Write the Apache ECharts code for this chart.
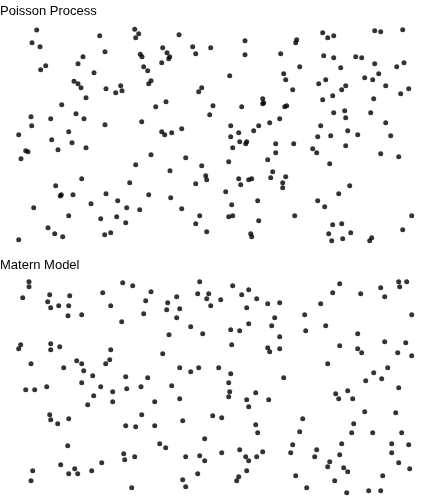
<!DOCTYPE html>
<html>
<head>
<meta charset="utf-8">
<script src="https://cdn.jsdelivr.net/npm/echarts@6/dist/echarts.min.js"></script>
<style>html,body{margin:0;padding:0;background:#fff}#c{width:432px;height:504px}</style>
</head>
<body>
<div id="c"></div>
<script>
const titles = ['Poisson Process', 'Matern Model'];

const poissonX = [36.7,134.7,138.7,135.7,99.7,32,40,105,140.3,142,83,78,45.7,40.7,143.7,147.7,94,74,78,81,120.7,122,115.7,106,86,61.7,76,84,31,50.7,31.7,105,18.7,68.7,51.7,72,86,25.7,28,58,21,135.7,81.7,129.7,55.7,61.3,60.3,73,106,117.7,91,33.7,126.7,139.7,68.7,116.7,100.7,125.7,48,54.7,62.7,104.7,110.7,18.7,
179,245,162.7,192.7,210.7,167,195.7,245,280.7,169.7,168.7,161.7,229.7,151,148.7,201.7,198.7,166,155.7,213,241.7,262.7,263.7,262.7,209.7,141.7,230.7,258.7,269.7,279.7,181.7,161.7,164.7,171.7,238.7,253.7,230.7,239.7,246.7,245.7,232.7,275.7,151,185.7,275.7,267.7,228.7,201.7,170,272.7,205.7,206.7,270.7,238.7,248.7,251.7,195.7,240.7,225.7,148.7,170.7,257.7,231.7,181.7,199.7,228.7,232.7,195.7,258.7,206.7,250.7,251.7,
322.7,327.7,333.7,374.7,380.7,402.7,296.7,295.7,323.7,333.7,355.7,361.7,374.7,404,396.7,299.7,340.7,283.7,285.7,378.7,364.7,372.7,318.7,325.7,345.7,341.7,385.7,408.7,400.7,292.7,332.7,322.7,373.7,284.7,286.7,333.7,344.7,345.7,370.7,385.7,320.7,317.7,330.7,347.7,357.7,390.7,293.7,345.7,312.7,316.7,380.7,398.7,329.7,285.7,282.7,282.7,349.7,338.7,317.7,324.7,294.7,411.7,332.7,341.7,328.7,350.7,402.7,331.7,342.7,371.7,369.7];
const poissonY = [30,29.3,33.7,37.7,35.7,42.7,46.7,51.7,54.3,56.7,56.7,63.7,65.7,69.7,66.7,70.7,72.7,81.3,83.7,87.7,85.7,90.7,92.7,88.7,97.7,104.7,113.7,118.7,116.7,118.7,125.7,124.7,134.7,131.7,139.7,142.7,147.7,150.7,151.7,149.7,158.7,164.7,178.7,182.7,185.7,194.7,196,194.7,193.7,200.7,203.7,207.7,207.7,209.7,215.7,216.7,218.7,222.7,227.7,233.7,236.7,234.7,232.7,239.7,
34.7,40.7,47.7,46.7,47.7,52.7,53.7,54.7,53.7,56.7,58.7,62.7,75.7,80.7,83.7,87.7,91.7,101.7,106.7,105.7,106.7,98.7,102.7,103.7,114.7,121.7,125.7,125.7,122.7,118.7,128.7,131.7,134.7,132.7,132.7,130.7,136.7,141.7,141.7,143.7,147.7,143.7,154.7,157.7,152.7,159.7,161.7,165.7,170.7,171.7,175.7,179.7,177.7,178.7,179.7,178.7,183.7,184.7,191.7,194.7,197.7,200.7,204.7,208.7,215.7,216.7,215.7,223.7,220.7,231.7,233.7,236.7,
32.7,37.7,35.7,30.7,31.7,29.7,39.7,42.7,55.7,57.7,56.7,57.7,63.7,62.7,66.7,66.7,67.7,73.7,79.7,73.7,77.7,79.7,83.7,79.7,85.7,89.7,85.7,88.7,93.7,89.7,95.7,99.7,98.7,106.7,105.7,112.7,110.7,117.7,112.7,122.7,125.7,136.7,135.7,130.7,134.7,135.7,143.7,145.7,148.7,152.7,153.7,156.7,163.7,176.7,182.7,187.7,185.7,193.7,200.7,206.7,215.7,215.7,224.7,223.7,233.7,232.7,229.7,240.7,238.7,237.7,240.7];

const maternX = [29,29,22.7,49.7,69.7,47.7,50.7,58.7,68.7,68,81.7,102.7,122.7,132.7,110.7,121.7,20.7,18.7,50.7,50.7,59.7,110.7,31,63.7,76.7,81.7,83.7,109.7,105.7,92.7,125.7,81.7,25.7,34.7,46.7,100.7,112.7,126.7,93.7,87.7,112.7,49.7,50.7,57.7,68.7,125.7,135.7,67.7,123.7,124.7,134.7,101.7,60.7,32.7,74.7,68.7,77.7,91.7,31,131.7,
199.7,232.7,248.7,241.7,151,145.7,143.7,176.7,167.7,166.7,179.7,176.7,197.7,208.7,206.7,210.7,220.7,256.7,246.7,267.7,279.7,274.7,271.7,248.7,230.7,239.7,190.7,169,202.7,279.7,231.7,267.7,269.7,279.7,162.7,179.7,190.7,198.7,218.7,230.7,147.7,141,171.7,228.7,229.7,228.7,255.7,246.7,268.7,248.7,179.7,154.7,141.7,212.7,221.7,182.7,154.7,255.7,257.7,204.7,159.7,165.7,239.7,221.7,185.7,199.7,204.7,245.7,248.7,256.7,262.7,197.7,246.7,238.7,236.7,182.7,185.7,
339.7,398.7,406.7,399.7,380.7,332.7,360.7,384.7,320.7,304.7,411.7,325.7,305.7,357.7,339.7,384.7,405.7,357.7,361.7,397.7,411.7,327.7,387.7,373.7,381.7,365.7,283.7,398.7,347.7,335.7,338.7,352.7,364.7,395.7,302.7,353.7,299.7,351.7,372.7,401.7,292.7,341.7,391.7,408.7,290.7,316.7,314.7,339.7,391.7,329.7,327.7,343.7,347.7,398.7,409.7,295.7,382.7,334.7,306.7,346.7,368.7,380.7];
const maternY = [281.7,286.7,297.7,294.7,295.7,301.7,307.7,305.7,305.7,315.7,314.7,292.7,282.7,285.7,305.7,321.7,344.7,348.7,343.7,349.7,346.7,349.7,363.7,367.7,360.7,363.7,370.7,359.7,363.7,375.7,376.7,382.7,389.7,389.7,386.7,386.7,391.7,388.7,395.7,404.7,401.7,414.7,419.7,423.7,418.7,425.7,426.7,445.7,453.7,459.7,456.7,462.7,464.7,470.7,468.7,473.7,473.7,470.7,480.7,487.7,
281.7,285.7,289.7,294.7,291.7,300.7,313.7,296.7,302.7,309.7,308.7,317.7,293.7,293.7,298.7,305.7,299.7,298.7,307.7,303.7,302.7,317.7,325.7,323.7,329.7,330.7,326.7,334.7,333.7,336.7,344.7,347.7,351.7,348.7,353.7,367.7,371.7,367.7,367.7,373.7,377.7,386.7,385.7,382.7,391.7,396.7,392.7,399.7,399.7,406.7,398.7,401.7,414.7,415.7,417.7,420.7,425.7,424.7,432.7,438.7,443.7,447.7,449.7,452.7,456.7,455.7,460.7,456.7,460.7,456.7,451.7,473.7,470.7,476.7,480.7,479.7,486.7,
283.7,281.7,281.7,286.7,287.7,292.7,293.7,296.7,303.7,314.7,314.7,325.7,330.7,333.7,345.7,341.7,342.7,348.7,352.7,352.7,355.7,363.7,367.7,372.7,378.7,380.7,377.7,387.7,390.7,393.7,398.7,398.7,411.7,412.7,418.7,423.7,431.7,432.7,432.7,432.7,444.7,443.7,443.7,444.7,452.7,449.7,456.7,454.7,452.7,461.7,466.7,467.7,471.7,462.7,468.7,475.7,475.7,480.7,487.7,492.7,490.7,490.7];

function pairs(xs, ys) { return xs.map((x, i) => [x, ys[i]]); }

const chart = echarts.init(document.getElementById('c'), null, {renderer: 'canvas'});
const titleStyle = {fontFamily: 'Liberation Sans, Arial, sans-serif', fontSize: 13, fontWeight: 'normal', color: '#000'};
chart.setOption({
  animation: false,
  backgroundColor: '#fff',
  title: [
    {text: titles[0], left: 0, top: 5, padding: 0, textStyle: titleStyle},
    {text: titles[1], left: 0, top: 259, padding: 0, textStyle: titleStyle}
  ],
  grid: [
    {left: 0, top: 0, width: 432, height: 252},
    {left: 0, top: 252, width: 432, height: 252}
  ],
  xAxis: [
    {gridIndex: 0, type: 'value', min: 0, max: 432, show: false},
    {gridIndex: 1, type: 'value', min: 0, max: 432, show: false}
  ],
  yAxis: [
    {gridIndex: 0, type: 'value', min: 0, max: 252, inverse: true, show: false},
    {gridIndex: 1, type: 'value', min: 252, max: 504, inverse: true, show: false}
  ],
  series: [
    {name: titles[0], type: 'scatter', xAxisIndex: 0, yAxisIndex: 0, symbol: 'circle', symbolSize: 5,
     itemStyle: {color: '#000'}, data: pairs(poissonX, poissonY), silent: true},
    {name: titles[1], type: 'scatter', xAxisIndex: 1, yAxisIndex: 1, symbol: 'circle', symbolSize: 5,
     itemStyle: {color: '#000'}, data: pairs(maternX, maternY), silent: true}
  ]
});
</script>
</body>
</html>
